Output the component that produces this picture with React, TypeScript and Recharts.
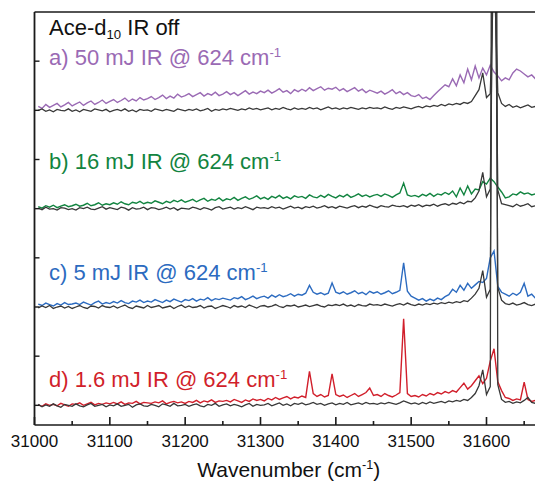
import React from "react";
import { LineChart, Line, XAxis, YAxis } from "recharts";

// Wavenumber grid (cm^-1): 31005 ... 31675, 5 cm^-1 steps (135 points)
const WN_START = 31005;
const WN_STEP = 5;

// Vertical offsets used to stack the four spectra
const OFFSET_A = 600;
const OFFSET_B = 400;
const OFFSET_C = 200;
const OFFSET_D = 0;

// IR-off reference spectra (black)
const OFF_A = [
  0, 3, -2, 1, -3, 2, 0, -1, 3, -2,
  1, -3, 2, 0, -2, 3, 1, -1, 2, -3,
  0, 2, -1, 3, -2, 1, -3, 2, 0, 1,
  -2, 3, 1, -1, 2, 0, -2, 3, 1, -1,
  2, 0, 3, -1, 1, 4, -2, 2, 0, 3,
  1, 4, 2, 0, 3, 1, 5, 2, 4, 1,
  3, 5, 1, 4, 2, 6, 3, 1, 5, 2,
  4, 2, 6, 3, 5, 1, 4, 7, 3, 5,
  2, 5, 3, 6, 4, 2, 5, 3, 6, 4,
  5, 3, 7, 4, 2, 6, 4, 7, 5, 3,
  6, 8, 5, 9, 7, 10, 8, 12, 9, 13,
  11, 14, 12, 16, 14, 18, 30, 42, 76, 26,
  34, 300, 36, 14, 8, 12, 6, 9, 5, 8,
  11, 6, 8, 5, 7,
];
const OFF_B = [
  1, -2, 3, -1, 0, -3, 2, 1, -2, 0,
  -3, 2, 0, 3, -1, -2, 1, 4, -1, 2,
  0, -2, 3, 1, -3, 2, -1, 0, 3, -2,
  2, 1, -2, 0, 3, -1, 2, -3, 1, 0,
  -1, 3, 1, -2, 2, 0, -3, 2, 4, -1,
  1, 3, -1, 2, 0, 4, 1, -2, 3, 1,
  2, 0, 4, 1, 3, -1, 2, 5, 1, 3,
  0, 4, 2, 5, 1, 3, 6, 2, 4, 1,
  5, 3, 1, 4, 6, 2, 5, 3, 7, 4,
  2, 6, 4, 3, 7, 5, 4, 6, 3, 7,
  5, 8, 4, 7, 6, 9, 5, 8, 10, 7,
  11, 9, 13, 10, 15, 14, 22, 36, 74, 24,
  40, 700, 38, 10, 8, 6, 4, 9, 5, 7,
  10, 4, 6, 3, 5,
];
const OFF_C = [
  -2, 2, -1, 3, -3, 0, 2, -2, 1, -3,
  0, 3, -1, -3, 2, 1, -2, 3, 0, -1,
  2, -2, 1, 4, -1, -3, 2, 0, -2, 3,
  -1, 1, 3, -2, 0, 2, -3, 1, 4, -1,
  2, -1, 0, 3, -2, 1, 2, -3, 0, 3,
  1, -2, 3, 0, 2, -1, 4, 1, -2, 2,
  3, 0, 2, 5, 1, -1, 3, 2, 4, 0,
  2, 4, 1, 3, 5, 2, 0, 4, 3, 5,
  3, 6, 2, 4, 1, 5, 3, 2, 6, 4,
  5, 3, 6, 4, 2, 5, 7, 4, 8, 5,
  3, 6, 4, 7, 5, 8, 6, 9, 7, 10,
  8, 11, 9, 13, 11, 18, 26, 38, 74, 20,
  36, 1300, 40, 14, 7, 5, 8, 4, 6, 9,
  5, 3, 6, 4, 5,
];
const OFF_D = [
  2, -3, 1, -2, 3, -1, -4, 2, 0, -2,
  3, -1, -3, 1, 4, -2, 0, 2, -3, 1,
  -1, 3, -2, 0, 2, -4, 1, 3, -1, -2,
  2, 0, -3, 3, 1, -2, 4, -1, 0, 2,
  -2, 1, 3, -1, -3, 2, 0, 4, -2, 1,
  3, -1, 2, 0, -3, 1, 4, -2, 2, 0,
  1, 4, -1, 2, 5, 0, 3, -1, 4, 2,
  5, 1, 3, 6, 2, 4, 0, 3, 5, 1,
  4, 2, 6, 1, 3, 5, 2, 6, 3, 4,
  2, 5, 3, 6, 4, 2, 5, 9, 6, 3,
  5, 2, 6, 3, 7, 4, 6, 8, 5, 9,
  7, 10, 8, 12, 10, 16, 24, 40, 72, 22,
  38, 3000, 42, 12, 6, 8, 4, 7, 5, 10,
  16, 6, 4, 7, 5,
];

// IR-on spectra
const IR_50 = [
  8, 4, 12, 6, 10, 14, 7, 11, 16, 9,
  13, 17, 10, 15, 19, 12, 16, 21, 14, 18,
  22, 16, 20, 25, 18, 23, 19, 26, 21, 24,
  28, 22, 26, 31, 24, 29, 25, 33, 27, 30,
  34, 28, 32, 36, 29, 34, 31, 37, 30, 33,
  38, 32, 36, 30, 35, 40, 33, 37, 34, 39,
  36, 41, 35, 39, 44, 37, 40, 34, 42, 38,
  43, 39, 46, 40, 44, 48, 41, 45, 43, 47,
  40, 44, 38, 42, 46, 39, 43, 36, 41, 38,
  35, 39, 33, 37, 42, 34, 38, 32, 36, 30,
  28, 32, 24, 27, 22, 30, 38, 45, 52, 48,
  64, 50, 72, 56, 84, 62, 90, 66, 86, 72,
  92, 78, 70, 60, 66, 62, 76, 84, 80, 74,
  68, 72, 64, 58, 56,
];
const IR_16 = [
  4, 1, 6, 3, 7, 2, 5, 8, 4, 6,
  9, 5, 7, 11, 6, 8, 12, 7, 10, 8,
  12, 9, 14, 10, 8, 13, 11, 15, 10, 13,
  11, 16, 13, 10, 15, 12, 17, 14, 18, 13,
  16, 19, 14, 18, 21, 15, 19, 17, 22, 16,
  20, 18, 23, 17, 21, 24, 19, 22, 26, 20,
  23, 19, 25, 22, 27, 21, 24, 20, 26, 23,
  25, 21, 28, 24, 22, 27, 23, 29, 25, 22,
  27, 24, 29, 23, 26, 30, 25, 28, 24, 27,
  29, 25, 30, 27, 23, 28, 32, 52, 28, 25,
  27, 24, 29, 26, 31, 25, 30, 28, 33, 29,
  36, 24, 42, 28, 46, 30, 40, 38, 55, 50,
  62, 55, 44, 34, 22, 24, 30, 28, 34, 30,
  32, 28, 30, 26, 25,
];
const IR_5 = [
  6, 3, 8, 5, 2, 7, 4, 9, 5, 6,
  8, 5, 10, 7, 4, 9, 12, 6, 9, 7,
  11, 8, 13, 9, 7, 12, 10, 14, 9, 12,
  10, 15, 12, 9, 14, 11, 16, 13, 10, 15,
  13, 17, 12, 16, 14, 19, 13, 17, 15, 18,
  16, 14, 19, 17, 21, 15, 18, 22, 17, 20,
  22, 18, 24, 20, 25, 21, 23, 27, 22, 26,
  24, 28, 44, 30, 26, 29, 25, 28, 49, 30,
  27, 31, 26, 29, 33, 27, 30, 25, 32, 28,
  31, 26, 29, 33, 27, 30, 34, 90, 32, 22,
  18, 14, 17, 12, 16, 13, 18, 15, 21, 25,
  36, 30, 44, 34, 48, 38, 45, 52, 50, 58,
  100, 114, 42, 30, 26, 22, 28, 24, 30, 48,
  22, 26, 18, 20, 16,
];
const IR_1_6 = [
  1, -2, 3, 0, 2, -1, 4, 1, -2, 3,
  2, 5, 0, 3, 6, 1, 4, 2, 5, 3,
  6, 3, 7, 2, 5, 4, 8, 3, 6, 5,
  4, 7, 5, 9, 3, 6, 8, 5, 7, 4,
  8, 6, 10, 5, 9, 7, 11, 6, 9, 8,
  10, 7, 12, 9, 6, 11, 8, 13, 10, 12,
  9, 14, 11, 16, 12, 15, 18, 13, 17, 15,
  19, 16, 69, 24, 18, 22, 17, 20, 64, 22,
  18, 21, 16, 20, 24, 18, 22, 26, 35, 20,
  22, 18, 24, 20, 17, 21, 26, 176, 24, 18,
  20, 17, 22, 19, 24, 21, 26, 23, 28, 25,
  30, 27, 36, 45, 33, 40, 50, 60, 44, 55,
  90, 115, 48, 30, 16, 14, 10, 13, 11, 47,
  12, 8, 10, 6, 7,
];

const X_TICKS = [31000, 31050, 31100, 31150, 31200, 31250, 31300, 31350, 31400, 31450, 31500, 31550, 31600, 31650];
const Y_TICKS = [0, 100, 200, 300, 400, 500, 600, 700];
const X_DOMAIN: [number, number] = [31000, 31675];
const Y_DOMAIN: [number, number] = [-40, 800];

const COLOR_A = "#9a6ab4";
const COLOR_B = "#128440";
const COLOR_C = "#2c6bc0";
const COLOR_D = "#d11f2b";
const COLOR_OFF = "#383838";
const AXIS = "#1a1a1a";
const FONT = "'Liberation Sans', Arial, sans-serif";

const data = OFF_A.map((_, i) => ({
  wn: WN_START + i * WN_STEP,
  onA: IR_50[i] + OFFSET_A,
  onB: IR_16[i] + OFFSET_B,
  onC: IR_5[i] + OFFSET_C,
  onD: IR_1_6[i] + OFFSET_D,
  offA: OFF_A[i] + OFFSET_A,
  offB: OFF_B[i] + OFFSET_B,
  offC: OFF_C[i] + OFFSET_C,
  offD: OFF_D[i] + OFFSET_D,
}));

// tickSize 0 / tickMargin 0 => (x, y) is the point on the axis line; marks point inward
const BottomTick = (props: any) => {
  const { x, y, payload } = props;
  const major = payload.value % 100 === 0;
  const len = major ? 8 : 4;
  return (
    <g>
      <rect x={x - 0.8} y={y - len} width={1.6} height={len} fill={AXIS} />
      {major && (
        <text x={x} y={y + 22} textAnchor="middle" fontSize={17} fontFamily={FONT} fill="#111">
          {payload.value}
        </text>
      )}
    </g>
  );
};

const TopTick = (props: any) => {
  const { x, y, payload } = props;
  const len = payload.value % 100 === 0 ? 7 : 4;
  return <rect x={x - 0.8} y={y} width={1.6} height={len} fill={AXIS} />;
};

const LeftTick = (props: any) => {
  const { x, y } = props;
  return <rect x={x} y={y - 0.7} width={5} height={1.4} fill={AXIS} />;
};

const labelStyle = (top: number, color: string): React.CSSProperties => ({
  position: "absolute",
  left: 41,
  top,
  fontSize: 22,
  lineHeight: 1,
  fontFamily: FONT,
  color,
  whiteSpace: "nowrap",
});

const sup: React.CSSProperties = { fontSize: "0.6em", verticalAlign: "0.6em" };
const sub: React.CSSProperties = { fontSize: "0.6em", verticalAlign: "-0.3em" };

export default function App() {
  return (
    <div style={{ position: "relative", width: 535, height: 480 }}>
      <LineChart width={535} height={480} data={data} margin={{ top: 3, right: 0, bottom: 0, left: 25.5 }}>
        <XAxis
          dataKey="wn"
          type="number"
          domain={X_DOMAIN}
          allowDataOverflow
          ticks={X_TICKS}
          interval={0}
          height={63}
          tickSize={0}
          tickMargin={0}
          tickLine={false}
          tick={<BottomTick />}
          axisLine={{ stroke: AXIS, strokeWidth: 1.6 }}
        />
        <XAxis
          xAxisId="top"
          orientation="top"
          type="number"
          domain={X_DOMAIN}
          allowDataOverflow
          ticks={X_TICKS}
          interval={0}
          height={1}
          tickSize={0}
          tickMargin={0}
          tickLine={false}
          tick={<TopTick />}
          axisLine={{ stroke: AXIS, strokeWidth: 1.6 }}
        />
        <YAxis
          type="number"
          domain={Y_DOMAIN}
          allowDataOverflow
          ticks={Y_TICKS}
          interval={0}
          width={1}
          tickSize={0}
          tickMargin={0}
          tickLine={false}
          tick={<LeftTick />}
          axisLine={{ stroke: AXIS, strokeWidth: 1.8 }}
        />
        <Line type="linear" dataKey="onA" stroke={COLOR_A} strokeWidth={1.4} dot={false} isAnimationActive={false} />
        <Line type="linear" dataKey="onB" stroke={COLOR_B} strokeWidth={1.4} dot={false} isAnimationActive={false} />
        <Line type="linear" dataKey="onC" stroke={COLOR_C} strokeWidth={1.4} dot={false} isAnimationActive={false} />
        <Line type="linear" dataKey="onD" stroke={COLOR_D} strokeWidth={1.4} dot={false} isAnimationActive={false} />
        <Line type="linear" dataKey="offA" stroke={COLOR_OFF} strokeWidth={1.3} dot={false} isAnimationActive={false} />
        <Line type="linear" dataKey="offB" stroke={COLOR_OFF} strokeWidth={1.3} dot={false} isAnimationActive={false} />
        <Line type="linear" dataKey="offC" stroke={COLOR_OFF} strokeWidth={1.3} dot={false} isAnimationActive={false} />
        <Line type="linear" dataKey="offD" stroke={COLOR_OFF} strokeWidth={1.3} dot={false} isAnimationActive={false} />
      </LineChart>

      <div style={labelStyle(8.5, "#111")}>
        Ace-d<span style={sub}>10</span> IR off
      </div>
      <div style={labelStyle(38, COLOR_A)}>
        a) 50 mJ IR @ 624 cm<span style={sup}>-1</span>
      </div>
      <div style={labelStyle(141.5, COLOR_B)}>
        b) 16 mJ IR @ 624 cm<span style={sup}>-1</span>
      </div>
      <div style={labelStyle(252.5, COLOR_C)}>
        c) 5 mJ IR @ 624 cm<span style={sup}>-1</span>
      </div>
      <div style={labelStyle(359.5, COLOR_D)}>
        d) 1.6 mJ IR @ 624 cm<span style={sup}>-1</span>
      </div>
      <div
        style={{
          position: "absolute",
          left: 26.5,
          width: 508.5,
          top: 451,
          textAlign: "center",
          fontSize: 21,
          lineHeight: 1,
          fontFamily: FONT,
          color: "#111",
          whiteSpace: "nowrap",
        }}
      >
        Wavenumber (cm<span style={sup}>-1</span>)
      </div>
    </div>
  );
}
